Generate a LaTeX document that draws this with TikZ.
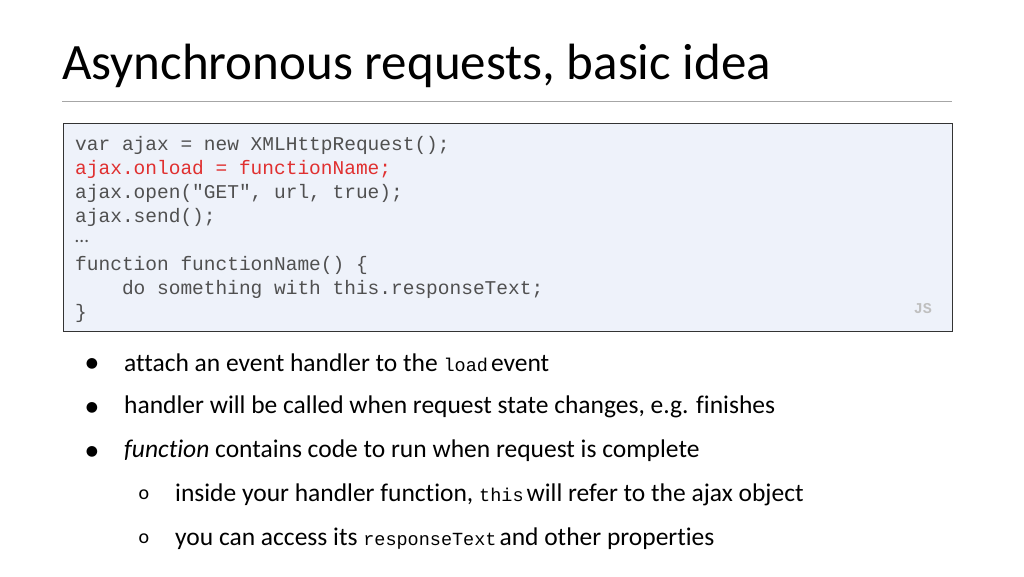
\documentclass[tikz,border=0pt]{standalone}
\usepackage{fontspec}
\setmainfont[Ligatures=NoCommon]{Carlito}
\setmonofont{Liberation Mono}
\newfontfamily\dejavu{DejaVu Sans}
\definecolor{codegray}{HTML}{505050}
\definecolor{codered}{HTML}{E03030}
\definecolor{boxfill}{HTML}{EEF2FA}
\newcommand{\ic}[1]{{\ttfamily\fontsize{18.5}{20}\selectfont #1}\hspace{3pt}}
\begin{document}
\begin{tikzpicture}[x=1pt,y=-1pt,
  code/.style={anchor=west,inner sep=0,font=\fontsize{19.5}{20}\ttfamily,text=codegray},
  bul/.style={anchor=west,inner sep=0,font=\fontsize{25.5}{27}\selectfont,text=black},
  dot/.style={anchor=center,inner sep=0,font=\dejavu\fontsize{14}{16}\selectfont,text=black}]
\useasboundingbox (0,0) rectangle (1024,576);
\node[anchor=base west,inner sep=0,font=\fontsize{51}{56}\selectfont] (title) at (62,79) {Asynchronous requests, basic idea};
\draw[gray!70,line width=0.8] (62,101) -- (952,101);
\node[draw=black!80,fill=boxfill,line width=0.8,minimum width=889,minimum height=208,anchor=north west,inner sep=0] (box) at (63,123) {};
\node[code] (c1) at (75,145) {var ajax = new XMLHttpRequest();};
\node[code,text=codered] (c2) at (75,169) {ajax.onload = functionName;};
\node[code] (c3) at (75,193) {ajax.open("GET", url, true);};
\node[code] (c4) at (75,217) {ajax.send();};
\node[code,font=\fontsize{19.5}{20}\selectfont] (c5) at (75,241) {…};
\node[code] (c6) at (75,265) {function functionName() \{};
\node[code] (c7) at (75,289) {\ \ \ \ do something with this.responseText;};
\node[code] (c8) at (75,313) {\}};
\node[anchor=east,inner sep=0,font=\fontsize{15}{16}\ttfamily\bfseries,text=gray!50] (js) at (932,309) {JS};
\node[dot] (b1) at (92,364) {●};
\node[bul] (t1) at (124,363) {attach an event handler to the \ic{load}event};
\node[dot] (b2) at (92,408) {●};
\node[bul] (t2) at (124,407) {handler will be called when request state changes, e.g. finishes};
\node[dot] (b3) at (92,452) {●};
\node[bul] (t3) at (124,451) {\textit{function} contains code to run when request is complete};
\node[dot,font=\fontsize{20}{22}\selectfont] (b4) at (144,495) {o};
\node[bul] (t4) at (175,495) {inside your handler function, \ic{this}will refer to the ajax object};
\node[dot,font=\fontsize{20}{22}\selectfont] (b5) at (144,539) {o};
\node[bul] (t5) at (175,539) {you can access its \ic{responseText}and other properties};
\end{tikzpicture}
\end{document}
